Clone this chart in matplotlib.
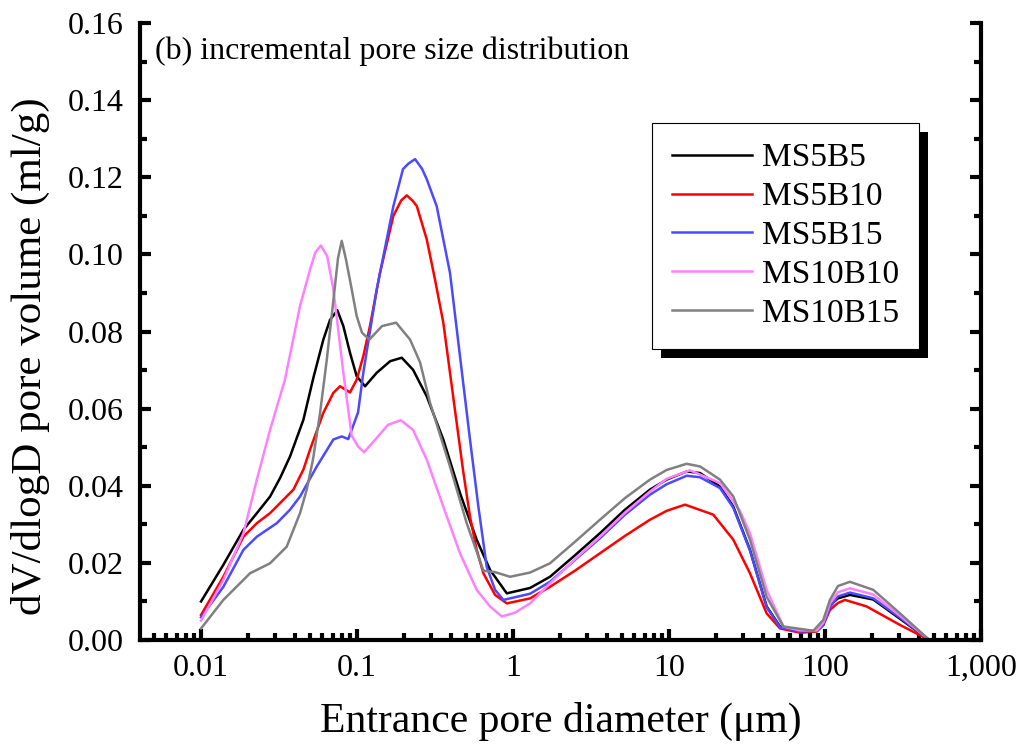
import matplotlib
matplotlib.use('Agg')
import matplotlib.pyplot as plt
from matplotlib.patches import Rectangle
from matplotlib.ticker import FixedLocator, LogLocator, MultipleLocator, NullFormatter, FuncFormatter
from matplotlib.transforms import IdentityTransform

plt.rcParams['font.family'] = ['Liberation Serif', 'DejaVu Serif']

# pore diameter (um) and dV/dlogD (ml/g)
x_ms5b5 = [0.01, 0.0139, 0.0187, 0.0228, 0.0277, 0.0321, 0.0372, 0.0453, 0.0525, 0.0608,
           0.0671, 0.0748, 0.0817, 0.0901, 0.0995, 0.1126, 0.1337, 0.163, 0.1935, 0.2285,
           0.2798, 0.3573, 0.4571, 0.5849, 0.7123, 0.912, 1.286, 1.726, 2.5, 3.61,
           5.22, 7.55, 9.66, 12.98, 15.81, 21.23, 25.84, 33.04, 42.27, 51.5,
           69.2, 88.5, 97.5, 107.6, 121, 144.5, 204, 302.6, 466.6]
y_ms5b5 = [0.0100, 0.0195, 0.0286, 0.0329, 0.0372, 0.0420, 0.0476, 0.0571, 0.0680, 0.0779,
           0.0830, 0.0855, 0.0814, 0.0745, 0.0684, 0.0658, 0.0693, 0.0723, 0.0732, 0.0701,
           0.0632, 0.0520, 0.0381, 0.0260, 0.0182, 0.0121, 0.0135, 0.0164, 0.0220, 0.0277,
           0.0338, 0.0390, 0.0416, 0.0437, 0.0433, 0.0398, 0.0346, 0.0234, 0.0087, 0.0035,
           0.0024, 0.0024, 0.0040, 0.0090, 0.0108, 0.0117, 0.0105, 0.0055, 0.0]

x_ms5b10 = [0.01, 0.0139, 0.0187, 0.0228, 0.0277, 0.0321, 0.0391, 0.0453, 0.050, 0.0608,
            0.0705, 0.0778, 0.0901, 0.0995, 0.1097, 0.121, 0.1403, 0.171, 0.192, 0.2085,
            0.2285, 0.2417, 0.2798, 0.316, 0.3573, 0.3944, 0.4354, 0.4775, 0.5298, 0.5849,
            0.6457, 0.7673, 0.912, 1.286, 1.726, 2.5, 3.61, 5.22, 7.55, 9.66,
            12.67, 19.23, 25.84, 33.04, 42.27, 51.5, 69.2, 88.5, 97.5, 107.6,
            121, 134.4, 185, 302.6, 466.6]
y_ms5b10 = [0.0065, 0.0164, 0.0268, 0.0303, 0.0329, 0.0355, 0.0390, 0.0442, 0.0494, 0.0589,
            0.0641, 0.0658, 0.0642, 0.0675, 0.0736, 0.0814, 0.0952, 0.1100, 0.1140, 0.1153,
            0.1138, 0.1125, 0.1039, 0.0935, 0.0823, 0.0693, 0.0563, 0.0442, 0.0320, 0.0234,
            0.0173, 0.0117, 0.0095, 0.0108, 0.0138, 0.0180, 0.0225, 0.0270, 0.0312, 0.0335,
            0.0351, 0.0325, 0.0260, 0.0173, 0.0069, 0.0030, 0.0019, 0.0022, 0.0039, 0.0078,
            0.0096, 0.0104, 0.0087, 0.0039, 0.0]

x_ms5b15 = [0.01, 0.0139, 0.0187, 0.0228, 0.0306, 0.0372, 0.0431, 0.0552, 0.0705, 0.0798,
            0.0879, 0.1015, 0.1097, 0.1337, 0.171, 0.197, 0.213, 0.2355, 0.261, 0.2798,
            0.324, 0.3944, 0.4571, 0.5298, 0.5995, 0.6783, 0.7673, 0.8676, 1.286, 1.726,
            2.5, 3.61, 5.22, 7.55, 9.66, 12.98, 15.81, 21.23, 25.84, 33.04,
            42.27, 51.5, 69.2, 88.5, 97.5, 107.6, 121, 144.5, 204, 302.6,
            466.6]
y_ms5b15 = [0.0059, 0.0138, 0.0234, 0.0268, 0.0303, 0.0338, 0.0372, 0.0450, 0.0520, 0.0528,
            0.0521, 0.0590, 0.0693, 0.0909, 0.1125, 0.1221, 0.1235, 0.1247, 0.1222, 0.1195,
            0.1125, 0.0952, 0.0736, 0.0520, 0.0346, 0.0190, 0.0130, 0.0104, 0.0120, 0.0151,
            0.0208, 0.0264, 0.0325, 0.0377, 0.0404, 0.0426, 0.0422, 0.0394, 0.0343, 0.0232,
            0.0085, 0.0033, 0.0022, 0.0024, 0.0040, 0.0085, 0.0113, 0.0123, 0.0108, 0.0058,
            0.0]

x_ms10b10 = [0.01, 0.0139, 0.0187, 0.0228, 0.0277, 0.0345, 0.0431, 0.050, 0.054, 0.0586,
             0.0643, 0.0705, 0.0817, 0.0924, 0.1015, 0.111, 0.1337, 0.158, 0.1906, 0.2285,
             0.2798, 0.3573, 0.4571, 0.5849, 0.7123, 0.8475, 1.03, 1.286, 1.726, 2.5,
             3.61, 5.22, 7.55, 9.66, 13.63, 21.23, 28.5, 33.04, 42.27, 54.1,
             69.2, 88.5, 97.5, 107.6, 121, 144.5, 204, 302.6, 466.6]
y_ms10b10 = [0.0050, 0.0156, 0.0277, 0.0416, 0.0545, 0.0675, 0.0866, 0.0961, 0.1005, 0.1023,
             0.0996, 0.0909, 0.0693, 0.0530, 0.0502, 0.0487, 0.0524, 0.0558, 0.0570, 0.0545,
             0.0468, 0.0346, 0.0225, 0.0130, 0.0087, 0.0061, 0.0071, 0.0095, 0.0147, 0.0210,
             0.0268, 0.0330, 0.0385, 0.0418, 0.0440, 0.0407, 0.0335, 0.0277, 0.0130, 0.0035,
             0.0025, 0.0025, 0.0045, 0.0095, 0.0124, 0.0134, 0.0118, 0.0063, 0.0]

x_ms10b15 = [0.01, 0.0139, 0.0206, 0.0277, 0.0354, 0.0431, 0.0476, 0.0523, 0.058, 0.0639,
             0.0705, 0.0755, 0.0798, 0.0849, 0.0916, 0.0995, 0.1076, 0.120, 0.1445, 0.178,
             0.2188, 0.2535, 0.2938, 0.3944, 0.5047, 0.6457, 0.7673, 0.958, 1.286, 1.726,
             2.5, 3.61, 5.22, 7.55, 9.66, 12.98, 15.81, 21.23, 25.84, 33.04,
             42.27, 54.1, 84.2, 97.5, 107.6, 121, 144.5, 204, 302.6, 466.6]
y_ms10b15 = [0.0030, 0.0104, 0.0173, 0.0199, 0.0242, 0.0329, 0.0390, 0.0470, 0.0590, 0.0725,
             0.0880, 0.0990, 0.1035, 0.0987, 0.0918, 0.0840, 0.0797, 0.0779, 0.0814, 0.0823,
             0.0779, 0.0720, 0.0615, 0.0450, 0.0303, 0.0180, 0.0176, 0.0164, 0.0175, 0.0199,
             0.0255, 0.0312, 0.0368, 0.0416, 0.0441, 0.0457, 0.0450, 0.0416, 0.0372, 0.0260,
             0.0112, 0.0035, 0.0024, 0.0052, 0.0104, 0.0140, 0.0151, 0.0130, 0.0069, 0.0]

series = [
    ('MS5B5', x_ms5b5, y_ms5b5, 'black'),
    ('MS5B10', x_ms5b10, y_ms5b10, '#ff0000'),
    ('MS5B15', x_ms5b15, y_ms5b15, '#4a4aff'),
    ('MS10B10', x_ms10b10, y_ms10b10, '#ff80ff'),
    ('MS10B15', x_ms10b15, y_ms10b15, '#808080'),
]

x_major = [0.01, 0.1, 1, 10, 100, 1000]

fig = plt.figure(figsize=(10.27, 7.49), dpi=100)
ax = fig.add_axes([0.1363, 0.1455, 0.8189, 0.8238])

for name, xs, ys, c in series:
    ax.plot(xs, ys, color=c, lw=1.8, label=name, solid_joinstyle='round')

ax.set_xscale('log')
ax.set_xlim(0.00406, 1000)
ax.set_ylim(0, 0.16)

ax.xaxis.set_major_locator(FixedLocator(x_major))
ax.xaxis.set_minor_locator(LogLocator(base=10, subs=range(2, 10), numticks=20))
ax.xaxis.set_minor_formatter(NullFormatter())
ax.xaxis.set_major_formatter(FuncFormatter(lambda v, p: f'{v:,.0f}' if v >= 1 else f'{v:g}'))
ax.yaxis.set_major_locator(MultipleLocator(0.02))
ax.yaxis.set_minor_locator(MultipleLocator(0.01))
ax.yaxis.set_major_formatter(FuncFormatter(lambda v, p: f'{v:.2f}'))

for s in ['left', 'bottom', 'right']:
    ax.spines[s].set_linewidth(3)
ax.spines['top'].set_visible(False)

ax.tick_params(which='both', direction='in', right=True, top=False, labelsize=23)
ax.tick_params(axis='y', pad=12)
ax.tick_params(axis='x', pad=10)
ax.tick_params(which='major', length=8, width=3)
ax.tick_params(which='minor', length=5, width=3)

ax.set_xlabel('Entrance pore diameter (\u03bcm)', fontsize=30, labelpad=14)
ax.set_ylabel('dV/dlogD pore volume (ml/g)', fontsize=31)
ax.yaxis.set_label_coords(-0.107, 0.46)

ax.text(0.018, 0.978, '(b) incremental pore size distribution', transform=ax.transAxes,
        fontsize=23, va='top', ha='left')

leg = ax.legend(loc='upper left', bbox_to_anchor=(0.609, 0.838), borderaxespad=0,
                fontsize=24, frameon=True, fancybox=False, edgecolor='black',
                facecolor='white', framealpha=1,
                handlelength=2.4, handletextpad=0.3, labelspacing=0.25, borderpad=0.6)
leg.get_frame().set_linewidth(0.8)
leg.set_zorder(6)

# hard black drop shadow behind the legend box
fig.canvas.draw()
bb = leg.get_window_extent()
ax.add_patch(Rectangle((bb.x0 + 9, bb.y0 - 9), bb.width, bb.height, transform=IdentityTransform(),
                       facecolor='black', edgecolor='none', zorder=5.5, clip_on=False))

fig.savefig('out.png', dpi=100)
